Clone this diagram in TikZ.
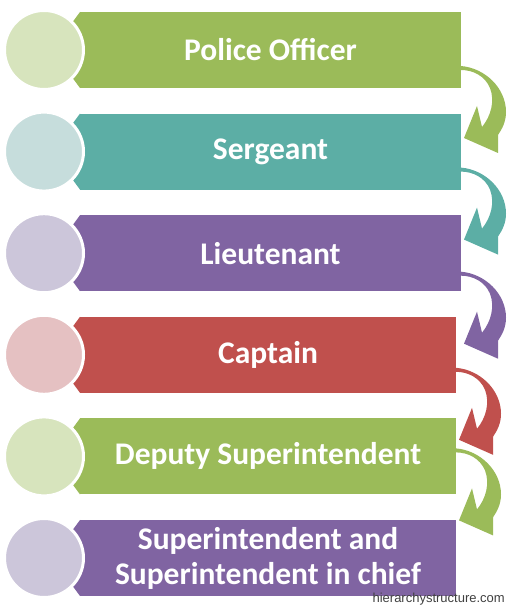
\documentclass[tikz,border=0pt]{standalone}
\usepackage{fontspec}
\setmainfont{Carlito}
\newfontfamily\markfont{Liberation Sans}
\usetikzlibrary{positioning,calc}
\definecolor{greenbar}{HTML}{9BBB59}
\definecolor{greendisc}{HTML}{D7E4BD}
\definecolor{tealbar}{HTML}{5CAEA5}
\definecolor{tealdisc}{HTML}{C6DDDC}
\definecolor{purplebar}{HTML}{8064A2}
\definecolor{purpledisc}{HTML}{CCC6DA}
\definecolor{redbar}{HTML}{C0504D}
\definecolor{reddisc}{HTML}{E5C1C2}

\begin{document}
\begin{tikzpicture}[
      x=1pt, y=1pt,
      % bars carry the rank names
      bar/.style={minimum width=381pt, minimum height=76pt, inner sep=0pt, outer sep=0pt, text=white, align=center, font=\bfseries\fontsize{31.5}{35}\selectfont},
      disc/.style={circle, draw=white, line width=3pt, minimum size=79pt, inner sep=0pt},
      bend arrow/.pic={
        \fill (0,0) .. controls (24,-2) and (45,-22) .. (45,-46)
          .. controls (45,-56) and (41,-63) .. (37,-69) -- (37,-87) -- (3,-72) -- (16,-40) -- (21,-61)
          .. controls (30,-50) and (34,-35) .. (29,-22) .. controls (24,-10) and (12,-4) .. (0,-4) -- cycle;
      }
    ]
      \useasboundingbox (0,0) rectangle (508,608);
      \node[bar, fill=greenbar] (off) at (270.5,558) {Police Officer};
      \node[bar, fill=tealbar, below=25.6pt of off] (serg) {Sergeant};
      \node[bar, fill=purplebar, below=25.6pt of serg] (lieu) {Lieutenant};
      \node[bar, fill=redbar, minimum width=376pt, below=25.6pt of lieu.south west, anchor=north west] (capt) {Captain};
      \node[bar, fill=greenbar, minimum width=376pt, below=25.6pt of capt] (dep) {Deputy Superintendent};
      \node[bar, fill=purplebar, minimum width=376pt, below=25.6pt of dep] (sup) {Superintendent and\\Superintendent in chief};
      % pointed left ends
      \foreach \n/\c in {off/greenbar, serg/tealbar, lieu/purplebar, capt/redbar, dep/greenbar, sup/purplebar}
        \fill[\c] (\n.north west) -- ($(\n.west)+(-28,0)$) -- (\n.south west) -- cycle;
      % discs
      \foreach \n/\c in {off/greendisc, serg/tealdisc, lieu/purpledisc, capt/reddisc, dep/greendisc, sup/purpledisc}
        \node[disc, fill=\c] (\n-disc) at ($(\n.west)+(-36,0)$) {};
      % curved arrows
      \pic[greenbar] at ($(off.east)+(0,-16)$) {bend arrow};
      \pic[tealbar] at ($(serg.east)+(0,-16)$) {bend arrow};
      \pic[purplebar] at ($(lieu.east)+(0,-18.5)$) {bend arrow};
      \pic[redbar] at ($(capt.east)+(0,-13)$) {bend arrow};
      \pic[greenbar] at ($(dep.east)+(0,8)$) {bend arrow};
      \node[font=\markfont\fontsize{13}{15}\selectfont, text=black!75, anchor=east, inner sep=0pt] (mark) at (505,9) {hierarchystructure.com};
    \end{tikzpicture}
\end{document}
